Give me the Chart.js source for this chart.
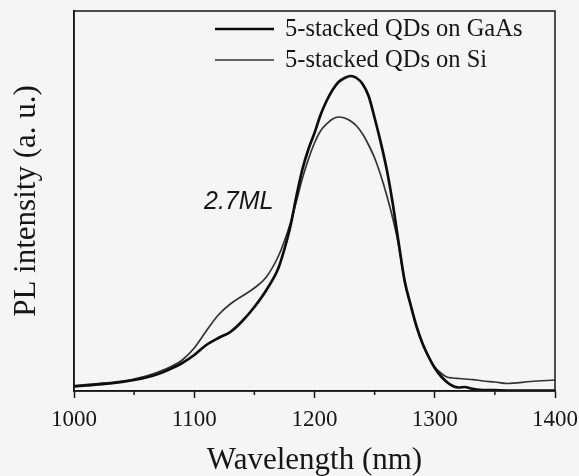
<!DOCTYPE html>
<html><head><meta charset="utf-8">
<script src="https://cdn.jsdelivr.net/npm/chart.js@4.4.0/dist/chart.umd.min.js"></script>
<style>html,body{margin:0;padding:0;background:#f5f5f5;}</style>
</head><body>
<canvas id="c" width="579" height="476"></canvas>
<script>
// ---- data ----
const wavelengths = [1000,1010,1020,1030,1040,1050,1060,1070,1080,1090,1100,1110,1120,1130,1140,1150,1160,1170,
  1175,1180,1185,1190,1195,1200,1205,1210,1215,1220,1225,1230,1235,1240,1245,1250,1255,1260,1265,1270,1275,1280,
  1285,1290,1295,1300,1305,1310,1315,1320,1325,1330,1335,1340,1350,1360,1380,1400];
const intensityGaAs = [4.5,5.5,6.5,7.5,9,11,13.5,17,22,28,36,46,53,59,70,84,101,123,
  142,165,195,222,242,258,276,290,301,309,313,315,313,307,295,273,249,222,188,148,110,86,
  64,47,34,23,15,9,5,3.5,4,2.5,1.5,1,0.8,0.5,0.5,0.5];
const intensitySi = [5.5,6.5,7.5,8.5,10,12,15,19,24,31,43,60,76,87,95,103,114,135,
  150,168,190,213,232,248,260,267,272,274,273,270,265,257,246,233,216,196,173,146,109,85,
  64,47,34,24,18,14,13,12.5,12,11.5,11,10,9,7.5,9.5,11];
const seriesLabels = ['5-stacked QDs on GaAs', '5-stacked QDs on Si'];
const xMajorTicks = [1000, 1100, 1200, 1300, 1400];
const xMinorTicks = [1050, 1150, 1250, 1350];
const xTitle = 'Wavelength (nm)';
const yTitle = 'PL intensity (a. u.)';
const annotation = {text: '2.7ML', x: 1137, y: 189};

const INK = '#161616';
const SERIF = '"Liberation Serif", "Times New Roman", serif';

const toPoints = (xs, ys) => xs.map((x, i) => ({x, y: ys[i]}));

const extras = {
  id: 'extras',
  beforeDraw(chart) {
    const ctx = chart.ctx;
    ctx.save();
    ctx.fillStyle = '#f5f5f5';
    ctx.fillRect(0, 0, chart.width, chart.height);
    ctx.restore();
  },
  afterDraw(chart) {
    const {ctx, chartArea: a, scales: {x, y}} = chart;
    ctx.save();
    ctx.strokeStyle = INK;
    ctx.lineWidth = 1.5;
    ctx.strokeRect(a.left, a.top, a.right - a.left, a.bottom - a.top);
    // minor ticks
    xMinorTicks.forEach(v => {
      const px = x.getPixelForValue(v);
      ctx.beginPath(); ctx.moveTo(px, a.bottom); ctx.lineTo(px, a.bottom + 4); ctx.stroke();
    });
    // annotation
    ctx.fillStyle = INK;
    ctx.font = 'italic 25px "Liberation Sans", Arial, sans-serif';
    ctx.textAlign = 'center';
    ctx.textBaseline = 'middle';
    ctx.fillText(annotation.text, x.getPixelForValue(annotation.x), y.getPixelForValue(annotation.y));
    // legend
    ctx.font = '24.5px ' + SERIF;
    ctx.textAlign = 'left';
    chart.data.datasets.forEach((ds, i) => {
      const ly = a.top + 18 + i * 31;
      ctx.strokeStyle = ds.borderColor;
      ctx.lineWidth = ds.borderWidth;
      ctx.beginPath(); ctx.moveTo(a.left + 141, ly); ctx.lineTo(a.left + 200, ly); ctx.stroke();
      ctx.fillStyle = INK;
      ctx.fillText(ds.label, a.left + 211, ly + 1);
    });
    ctx.restore();
  }
};

new Chart(document.getElementById('c'), {
  type: 'line',
  data: {
    datasets: [
      {label: seriesLabels[0], data: toPoints(wavelengths, intensityGaAs), borderColor: '#0d0d0d',
       borderWidth: 2.7, pointRadius: 0, cubicInterpolationMode: 'monotone', fill: false},
      {label: seriesLabels[1], data: toPoints(wavelengths, intensitySi), borderColor: '#333333',
       borderWidth: 1.7, pointRadius: 0, cubicInterpolationMode: 'monotone', fill: false}
    ]
  },
  options: {
    responsive: false,
    animation: false,
    layout: {padding: {top: 11, right: 24, left: 0, bottom: 0}},
    plugins: {legend: {display: false}, tooltip: {enabled: false}},
    scales: {
      x: {
        type: 'linear', min: 1000, max: 1400,
        afterBuildTicks: s => { s.ticks = xMajorTicks.map(v => ({value: v})); },
        afterFit: s => { s.height = 85; s.paddingLeft = 0; s.paddingRight = 0; },
        ticks: {color: INK, font: {family: SERIF, size: 23}, padding: 8, callback: v => String(v), maxRotation: 0},
        grid: {drawOnChartArea: false, tickLength: 7, color: INK, tickWidth: 1.5},
        border: {display: true, color: INK, width: 1.5},
        title: {display: true, text: xTitle, color: INK, font: {family: SERIF, size: 31, lineHeight: 1.0}, padding: {top: 0, bottom: 0}}
      },
      y: {
        min: 0, max: 380,
        afterFit: s => { s.width = 74; },
        ticks: {display: false},
        grid: {display: false},
        border: {display: true, color: INK, width: 1.5},
        title: {display: true, text: yTitle, color: INK, font: {family: SERIF, size: 31}, padding: {top: 8, bottom: 0}}
      }
    }
  },
  plugins: [extras]
});
</script>
</body></html>
